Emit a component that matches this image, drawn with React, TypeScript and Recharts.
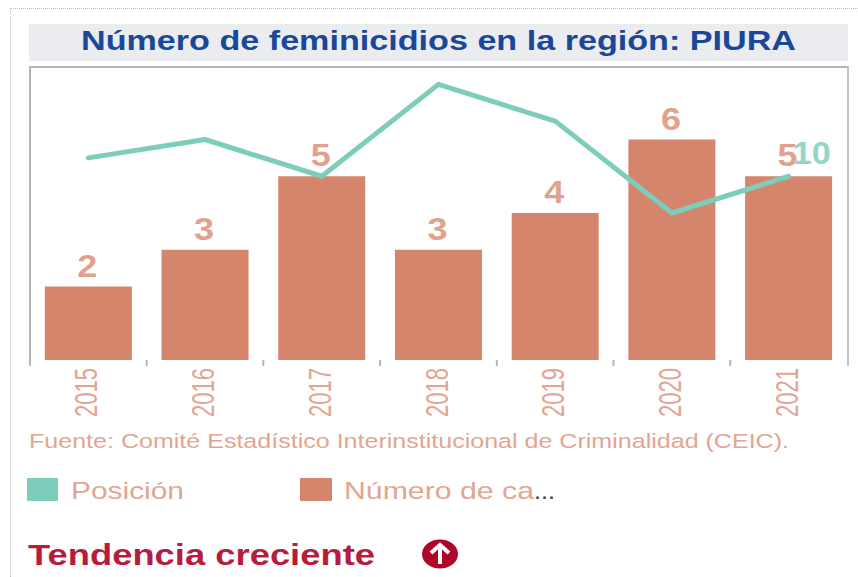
import { Bar, ComposedChart, LabelList, Line, XAxis, YAxis } from "recharts";

const years = ["2015", "2016", "2017", "2018", "2019", "2020", "2021"];
const casos = [2, 3, 5, 3, 4, 6, 5];
const posicion = [9, 8, 10, 5, 7, 12, 10];

const chartData = years.map((year, i) => ({ year, casos: casos[i], posicion: posicion[i] }));

const SALMON = "#d6856d";
const SALMON_TEXT = "#e3a592";
const TEAL = "#7dcdbb";
const FONT = "'Liberation Sans', Arial, sans-serif";

const YearTick = ({ x, y, payload, index }: any) => (
  <g>
    {/* separador entre categorías */}
    {index < years.length - 1 && (
      <line x1={x + 58.3} x2={x + 58.3} y1={360} y2={366} stroke="#b5b5b5" strokeWidth={2} />
    )}
    <text
      transform={`translate(${x + 9},${y + 49}) rotate(-90)`}
      fontFamily={FONT}
      fontSize={32}
      fill={SALMON_TEXT}
      textLength={49}
      lengthAdjust="spacingAndGlyphs"
    >
      {payload.value}
    </text>
  </g>
);

const BarValue = ({ x, y, width, value }: any) => (
  <text
    x={x + width / 2 - 1}
    y={y - 10}
    textAnchor="middle"
    fontFamily={FONT}
    fontWeight="bold"
    fontSize={31}
    fill="#e0a28f"
    textLength={20}
    lengthAdjust="spacingAndGlyphs"
  >
    {value}
  </text>
);

// solo el último punto lleva etiqueta
const LastPointValue = ({ x, y, index, value }: any) =>
  index === years.length - 1 ? (
    <text
      x={x + 23}
      y={y - 12}
      textAnchor="middle"
      fontFamily={FONT}
      fontWeight="bold"
      fontSize={31}
      fill="#93d6c6"
      textLength={38}
      lengthAdjust="spacingAndGlyphs"
    >
      {value}
    </text>
  ) : null;

export default function App() {
  return (
    <div style={{ position: "absolute", left: 0, top: 0, width: 858, height: 577, background: "#fff", overflow: "hidden" }}>
      <div style={{ position: "absolute", left: 10, top: 8, right: 0, bottom: 0, borderTop: "1px dotted #bbb", borderLeft: "1px dotted #bbb" }} />
      <div style={{ position: "absolute", left: 29, top: 24, width: 819, height: 37, background: "#ebecf0" }} />
      <div style={{ position: "absolute", left: 29, top: 66, width: 816, height: 298, borderTop: "2px solid #b5b5b5", borderLeft: "2px solid #b5b5b5", borderRight: "2px solid #c4c4c4" }} />

      <ComposedChart
        width={858}
        height={577}
        data={chartData}
        margin={{ top: 66, right: 11, bottom: 157, left: 30 }}
        barCategoryGap="12.7%"
        style={{ position: "absolute", left: 0, top: 0 }}
      >
        <XAxis dataKey="year" height={60} axisLine={false} tickLine={false} tick={<YearTick />} interval={0} />
        <YAxis yAxisId="casos" hide domain={[0, 8]} />
        <YAxis yAxisId="posicion" hide reversed domain={[4, 20]} />
        <Bar yAxisId="casos" dataKey="casos" fill={SALMON} isAnimationActive={false}>
          <LabelList dataKey="casos" content={<BarValue />} />
        </Bar>
        <Line
          yAxisId="posicion"
          dataKey="posicion"
          type="linear"
          stroke={TEAL}
          strokeWidth={5}
          strokeLinecap="round"
          strokeLinejoin="round"
          dot={false}
          isAnimationActive={false}
        >
          <LabelList dataKey="posicion" content={<LastPointValue />} />
        </Line>
      </ComposedChart>

      <svg width={858} height={577} style={{ position: "absolute", left: 0, top: 0 }} fontFamily={FONT}>
        <text x={81} y={50} fontSize={28} fontWeight="bold" fill="#1a4797" textLength={715} lengthAdjust="spacingAndGlyphs">
          Número de feminicidios en la región: PIURA
        </text>
        <text x={29} y={448} fontSize={20.5} fill={SALMON_TEXT} textLength={760} lengthAdjust="spacingAndGlyphs">
          Fuente: Comité Estadístico Interinstitucional de Criminalidad (CEIC).
        </text>
        <rect x={27} y={478} width={31} height={23} rx={1} fill={TEAL} />
        <text x={71} y={499} fontSize={24} fill={SALMON_TEXT} textLength={113} lengthAdjust="spacingAndGlyphs">
          Posición
        </text>
        <rect x={300} y={478} width={32} height={23} rx={1} fill={SALMON} />
        <text x={344} y={499} fontSize={24} fill={SALMON_TEXT} textLength={190} lengthAdjust="spacingAndGlyphs">
          Número de ca
        </text>
        <text x={534} y={499} fontSize={24} fill="#444" textLength={21} lengthAdjust="spacingAndGlyphs">
          ...
        </text>
        <text x={28} y={565} fontSize={30} fontWeight="bold" fill="#b71c3c" textLength={347} lengthAdjust="spacingAndGlyphs">
          Tendencia creciente
        </text>
        <ellipse cx={440} cy={554} rx={18} ry={14.5} fill="#b0062c" />
        <path d="M440 564 V546 M431 553 L440 545 L449 553" fill="none" stroke="#fff" strokeWidth={4} />
      </svg>
    </div>
  );
}
